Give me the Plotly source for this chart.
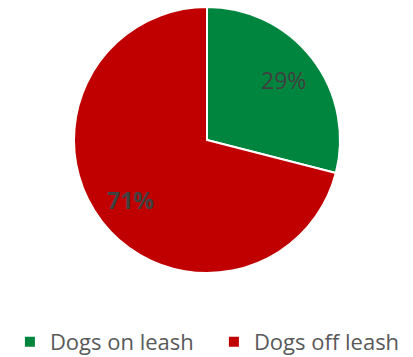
import math
import plotly.graph_objects as go

categories = ["Dogs on leash", "Dogs off leash"]
values = [29, 71]
colors = ["#00853E", "#C00000"]

W, H = 413, 357
cx, cy, r = 207, 140, 133

fig = go.Figure(go.Pie(
    labels=categories,
    values=values,
    sort=False,
    direction="clockwise",
    rotation=0,
    marker=dict(colors=colors, line=dict(color="white", width=2)),
    textinfo="none",
    domain=dict(x=[(cx - r) / W, (cx + r) / W], y=[(H - cy - r) / H, (H - cy + r) / H]),
    hoverinfo="label+percent",
))

total = sum(values)
cum = 0
for i, v in enumerate(values):
    mid = (cum + v / 2) / total * 2 * math.pi
    cum += v
    px = cx + 0.73 * r * math.sin(mid)
    py = cy - 0.73 * r * math.cos(mid)
    fig.add_annotation(
        x=px / W, y=1 - py / H, xref="paper", yref="paper",
        xanchor="center", yanchor="middle",
        text=(f"<b>{v}%</b>" if i == 1 else f"{v}%"),
        showarrow=False,
        font=dict(family="Open Sans", size=23, color="#404040"),
    )

fig.update_layout(
    width=W, height=H,
    margin=dict(l=0, r=0, t=0, b=0, autoexpand=False),
    paper_bgcolor="white",
    showlegend=True,
    legend=dict(orientation="h", x=0.024, xanchor="left", y=(H - 342) / H, yanchor="middle",
                font=dict(family="Open Sans", size=22, color="#595959"),
                entrywidth=159, entrywidthmode="pixels"),
)

fig.write_html("out.html")
